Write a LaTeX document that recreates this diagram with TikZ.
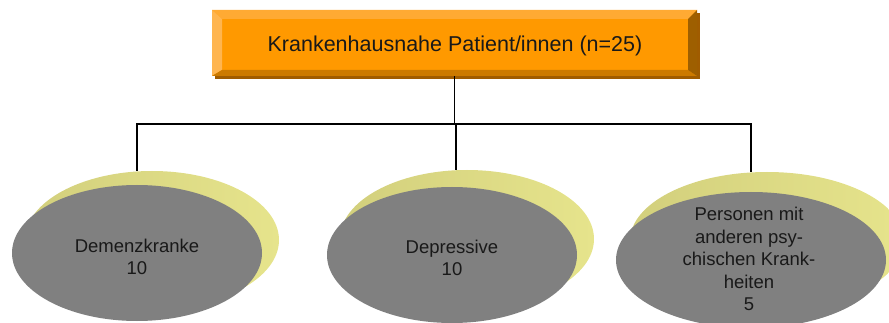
\documentclass[tikz,border=0pt]{standalone}
\usepackage{fontspec}
\setmainfont{Liberation Sans}
\usetikzlibrary{shapes.geometric,calc}
\definecolor{boxface}{HTML}{FF9900}
\definecolor{boxtop}{HTML}{FFAA33}
\definecolor{boxleft}{HTML}{FFB54F}
\definecolor{boxbottom}{HTML}{CC7A00}
\definecolor{boxright}{HTML}{9E5F00}
\definecolor{boxshadow}{HTML}{A05C00}
\definecolor{discgray}{HTML}{808080}
\definecolor{rimdark}{HTML}{9A975C}
\definecolor{rimmid}{HTML}{D2CF7C}
\definecolor{rimlight}{HTML}{E6E48C}
\begin{document}
\begin{tikzpicture}[x=1pt,y=-1pt,
  disc/.style={ellipse, fill=discgray, draw=none, inner sep=0, minimum height=136pt},
  rim/.style={ellipse, draw=none, inner sep=0, minimum height=138pt, left color=rimmid, middle color=rimdark, right color=rimlight},
  lab/.style={font=\fontsize{18.5}{22.5}\selectfont, align=center, inner sep=0, text=black!90},
  conn/.style={draw=black, line width=1.3pt}]
\useasboundingbox (0,0) rectangle (889,323);
\clip (0,0) rectangle (889,323);
% top bevelled box
\fill[boxshadow] (215,13) rectangle (700,79);
\fill[boxface] (212,10) rectangle (697,76);
\fill[boxtop] (212,10) -- (697,10) -- (688,19) -- (222,19) -- cycle;
\fill[boxleft] (212,10) -- (222,19) -- (222,70) -- (212,76) -- cycle;
\fill[boxbottom] (212,76) -- (222,70) -- (688,70) -- (697,76) -- cycle;
\fill[boxright] (697,10) -- (697,76) -- (688,70) -- (688,19) -- cycle;
\node[minimum width=485pt, minimum height=66pt, inner sep=0] (top) at (454.5,43) {};
\node[font=\fontsize{21.5}{24}\selectfont, inner sep=0, text=black!90] (toptext) at (455,45.5) {Krankenhausnahe Patient/innen (n=25)};
% discs
\node[rim, minimum width=254pt] (r1) at (152,240) {};
\node[disc, minimum width=250pt] (e1) at (137,253) {};
\node[lab] (t1) at ($(e1)+(0,4)$) {Demenzkranke\\10};
\node[rim, minimum width=254pt] (r2) at (467,239) {};
\node[disc, minimum width=250pt] (e2) at (452,255) {};
\node[lab] (t2) at ($(e2)+(0,3)$) {Depressive\\10};
\node[rim, minimum width=274pt] (r3) at (767,241) {};
\node[disc, minimum width=270pt] (e3) at (751,260) {};
\node[lab] (t3) at ($(e3)+(-2,-1)$) {Personen mit\\anderen psy-\\chischen Krank-\\heiten\\5};
% connectors
\coordinate (bus) at (456,124);
\draw[conn] (top.south) -- (top.south |- bus);
\draw[conn] (e1 |- r1.north) |- (bus) -| (e3 |- r3.north);
\draw[conn] (bus) -- (bus |- r2.north);
\end{tikzpicture}
\end{document}
